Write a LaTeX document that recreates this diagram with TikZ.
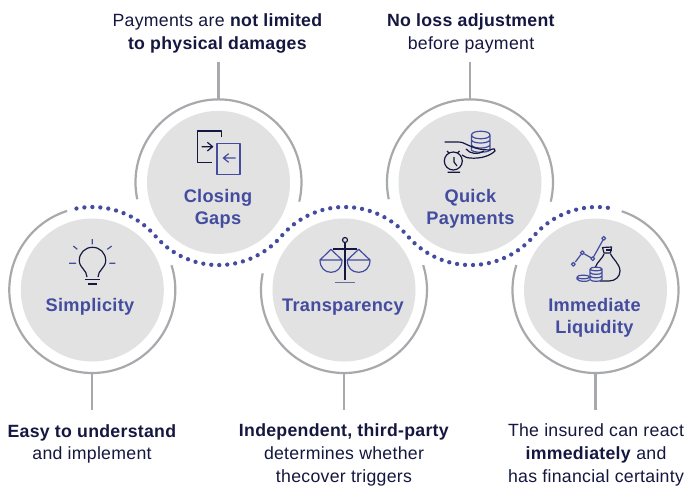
\documentclass[tikz,border=0pt]{standalone}
\usepackage{fontspec}
\setmainfont[LetterSpace=1.6]{Liberation Sans}
\definecolor{ringc}{HTML}{A7A9AC}
\definecolor{greyc}{HTML}{E2E2E3}
\definecolor{indigo}{HTML}{434C9E}
\definecolor{navy}{HTML}{14173F}
\tikzset{
  disc/.style={circle,fill=greyc,draw=none,minimum size=143pt,inner sep=0pt},
  ringarc/.style={draw=ringc,line width=2.2pt},
  conn/.style={draw=ringc,line width=2.2pt},
  wave/.style={draw=indigo,line width=4.3pt,line cap=round,dash pattern=on 0pt off 8pt},
  title/.style={font=\fontsize{18.2}{22.5}\selectfont\bfseries,text=indigo,align=center,inner sep=0pt},
  note/.style={font=\fontsize{17.7}{22.6}\selectfont,text=navy,align=center,inner sep=0pt},
  dk/.style={draw=navy,line width=1.2pt,line join=round},
  ind/.style={draw=indigo,line width=1.2pt,line join=round},
}
\begin{document}
\begin{tikzpicture}[x=1pt,y=-1pt]
\useasboundingbox[fill=white] (0,0) rectangle (687,487);
% discs
\node[disc] (simp) at (92.3,290) {};
\node[disc] (clos) at (218.5,182.4) {};
\node[disc] (tran) at (344,290) {};
\node[disc] (quic) at (470,182.4) {};
\node[disc] (immd) at (595.5,290) {};
% rings
\draw[ringarc] (simp.center) ++(107.7:83pt) arc[start angle=107.7,end angle=377.4,radius=83pt];
\draw[ringarc] (clos.center) ++(191.7:83pt) arc[start angle=191.7,end angle=-13.4,radius=83pt];
\draw[ringarc] (tran.center) ++(168.4:83pt) arc[start angle=168.4,end angle=377.4,radius=83pt];
\draw[ringarc] (quic.center) ++(191.7:83pt) arc[start angle=191.7,end angle=-13.4,radius=83pt];
\draw[ringarc] (immd.center) ++(71.6:83pt) arc[start angle=71.6,end angle=-197.5,radius=83pt];
% wave
\draw[wave] (simp.center) ++(101:83pt)
  arc[start angle=101,end angle=40.55,radius=83pt]
  arc[start angle=220.55,end angle=319.45,radius=83pt]
  arc[start angle=139.45,end angle=40.55,radius=83pt]
  arc[start angle=220.55,end angle=319.45,radius=83pt]
  arc[start angle=139.45,end angle=78.6,radius=83pt];
% titles
\node[title] (tsimp) at (90,307) {Simplicity};
\node[title] (tclos) at (218,209) {Closing\\Gaps};
\node[title] (ttran) at (343,307) {Transparency};
\node[title] (tquic) at (470.5,209) {Quick\\Payments};
\node[title] (timmd) at (594.5,318) {Immediate\\Liquidity};
% notes
\node[note] (nclos) at (217.5,33.5) {Payments are \textbf{not limited}\\\textbf{to physical damages}};
\node[note] (nquic) at (471,33.5) {\textbf{No loss adjustment}\\before payment};
\node[note] (nsimp) at (92,444) {\textbf{Easy to understand}\\and implement};
\node[note] (ntran) at (344,455) {\textbf{Independent, third-party}\\determines whether\\thecover triggers};
\node[note] (nimmd) at (596,455) {The insured can react\\\textbf{immediately} and\\has financial certainty};
% connectors
\coordinate (esimp) at (92.3,410);
\coordinate (eclos) at (218.5,62);
\coordinate (etran) at (344,410);
\coordinate (equic) at (470,62);
\coordinate (eimmd) at (595.5,410);
\draw[conn] ([yshift=-11.5pt]simp.south) -- (esimp);
\draw[conn] ([yshift=11.5pt]clos.north) -- (eclos);
\draw[conn] ([yshift=-11.5pt]tran.south) -- (etran);
\draw[conn] ([yshift=11.5pt]quic.north) -- (equic);
\draw[conn] ([yshift=-11.5pt]immd.south) -- (eimmd);
% bulb icon
\draw[ind] (92.3,239)--(92.3,244.3) (69,263.3)--(76,263.3) (109.3,263.3)--(115.3,263.3)
  (73.3,246)--(77.3,249.3) (111.7,246)--(107.3,249.3);
\draw[dk] (87,277) .. controls (87,270) and (79.3,268) .. (79.3,260.5)
  .. controls (79.3,253) and (85,247.3) .. (92.5,247.3)
  .. controls (100,247.3) and (105.7,253) .. (105.7,260.5)
  .. controls (105.7,268) and (98,270) .. (98,277);
\draw[dk] (85,279.5)--(99.5,279.5) (88.3,284)--(97.3,284);
% closing gaps icon
\draw[dk] (221.7,137.3)--(221.7,131)--(197.3,131)--(197.3,162.7)--(211.7,162.7);
\draw[dk] (201.7,146.7)--(212.7,146.7) (207.3,142.3)--(212.7,146.7)--(207.3,151);
\draw[ind] (217,143.3) rectangle (240,174.3);
\draw[ind] (235.7,158)--(223.3,158) (228.7,153.7)--(223.3,158)--(228.7,162.3);
% quick payments icon
\draw[ind] (471.5,135) .. controls (471.5,130) and (490,130) .. (490,135)
  .. controls (490,140) and (471.5,140) .. (471.5,135)
  (471.5,135)--(471.5,150) .. controls (473,153) and (488,153) .. (490,150)--(490,135)
  (471.5,140) .. controls (473,144) and (488,144) .. (490,140)
  (471.5,145) .. controls (473,149) and (488,149) .. (490,145);
\draw[dk] (444.5,142)--(457.5,142) .. controls (463,142) and (463,143) .. (470,146)
  .. controls (476,149) and (484,150) .. (490,150) .. controls (494,148) and (496,149) .. (495,151)
  .. controls (490,156) and (480,159) .. (470,158) .. controls (466,158) and (464,156) .. (462,155);
\draw[dk] (466,149) .. controls (470,154) and (478,155) .. (484,151);
\draw[dk] (453.3,161) circle[radius=9pt];
\draw[dk] (447.5,172.3)--(460,172.3) (447,151)--(449,153) (459.5,151)--(457.5,153);
\draw[dk] (454,157)--(454,162)--(457,166);
% scales icon
\draw[dk] (345,240) circle[radius=2.5pt];
\draw[dk] (345,242.5)--(345,280) (333.3,249)--(356.7,249);
\draw[draw=indigo!60!black!70,line width=1.2pt] (335,282.3)--(355,282.3);
\draw[ind] (331,249.3)--(320,260)--(342,260)--cycle
  (320,260) .. controls (320,268) and (325,272.3) .. (331,272.3) .. controls (337,272.3) and (342,268) .. (342,260);
\draw[ind] (358.7,249.3)--(347.3,260)--(370,260)--cycle
  (347.3,260) .. controls (347.3,268) and (352,272.3) .. (358.7,272.3) .. controls (365,272.3) and (370,268) .. (370,260);
% liquidity icon
\draw[ind] (575.3,262)--(581,254.5) (584.3,253.9)--(591,257.7) (593.6,256.8)--(602.9,240.1);
\draw[ind] (573.3,264.3) circle[radius=1.9pt] (582.3,252.7) circle[radius=1.9pt]
  (592.7,258.7) circle[radius=1.9pt] (603.7,238.3) circle[radius=1.9pt];
\draw[dk] (604,253) -- (602.5,247.5) -- (611.5,247) -- (610.5,253) -- cycle;
\draw[dk] (606,250) -- (611.5,250);
\draw[dk] (604,254) .. controls (603,258) and (597,262) .. (595.5,267)
  (610.5,254) .. controls (612,258) and (620,264) .. (620,271)
  .. controls (620,277) and (615,281) .. (609,281)--(600,281);
\draw[ind] (590,269) .. controls (590,266.5) and (602,266.5) .. (602,269)
  .. controls (602,271.5) and (590,271.5) .. (590,269)
  (590,269)--(590,279.5) .. controls (591,282) and (601,282) .. (602,279.5)--(602,269)
  (590,272.5) .. controls (591,275) and (601,275) .. (602,272.5)
  (590,276) .. controls (591,278.5) and (601,278.5) .. (602,276);
\draw[ind] (577,277) .. controls (577,274.5) and (589.5,274.5) .. (589.5,277)
  .. controls (589.5,279.5) and (577,279.5) .. (577,277)
  (577,277)--(577,279) .. controls (578,282) and (588,282) .. (589.5,280);
\end{tikzpicture}
\end{document}
